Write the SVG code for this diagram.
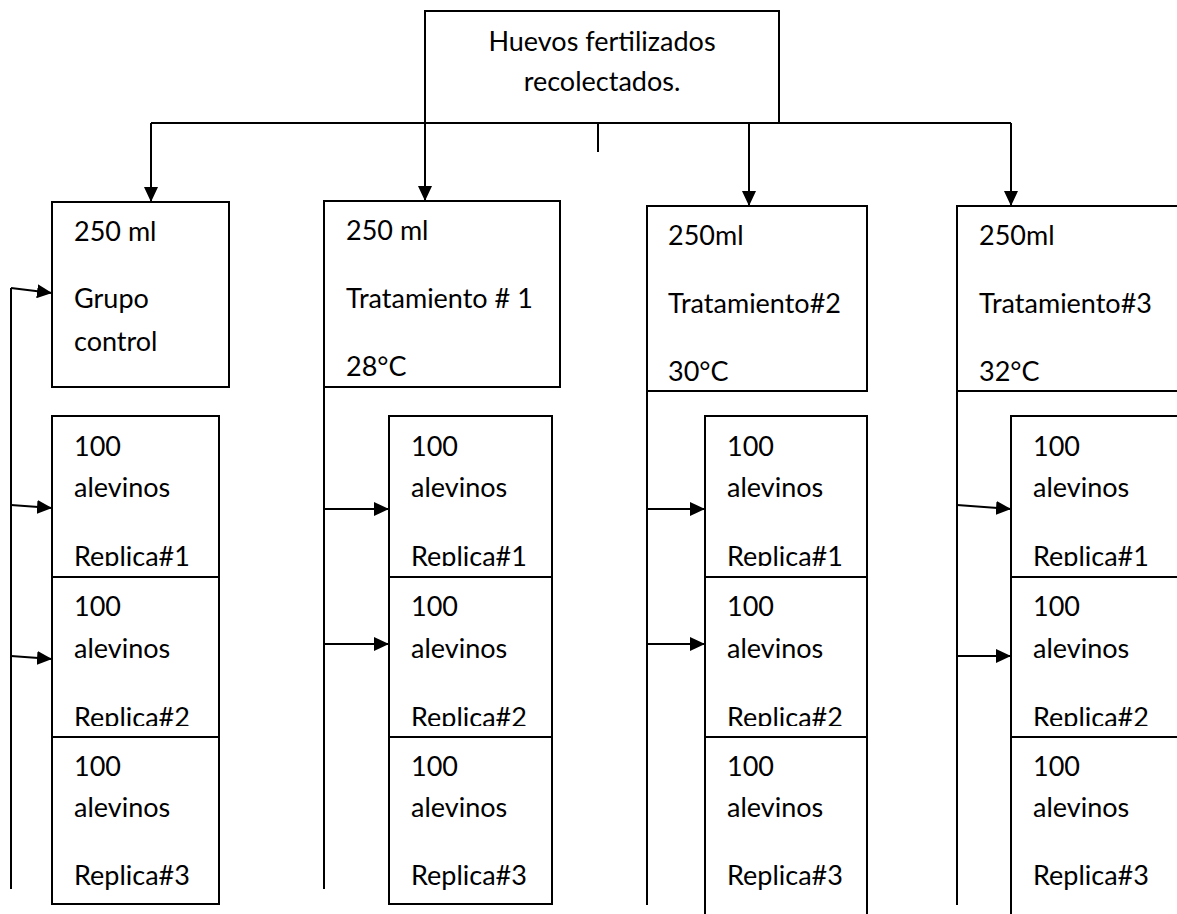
<svg xmlns="http://www.w3.org/2000/svg" width="1177" height="914" viewBox="0 0 1177 914">
<style>
.box{fill:#fff;stroke:#000;stroke-width:2}
.ln{fill:none;stroke:#000;stroke-width:2}
.ar{fill:none;stroke:#000;stroke-width:2;marker-end:url(#ah)}
text{font-family:Lato,"Open Sans","Liberation Sans",sans-serif;font-size:27px;fill:#000}
.c{text-anchor:middle}
</style>
<defs>
<marker id="ah" markerUnits="userSpaceOnUse" markerWidth="15" markerHeight="14" refX="15" refY="7" orient="auto">
<path d="M0,0 L15,7 L0,14 z" fill="#000"/>
</marker>
<clipPath id="cp1"><rect x="0" y="0" width="1177" height="566"/></clipPath>
<clipPath id="cp2"><rect x="0" y="0" width="1177" height="726"/></clipPath>
</defs>
<rect width="1177" height="914" fill="#fff"/>

<g id="top">
<rect class="box" x="425" y="11" width="354" height="112"/>
<text class="c" x="602" y="51">Huevos fertilizados</text>
<text class="c" x="602" y="91">recolectados.</text>
</g>

<g id="control">
<rect class="box" x="52" y="202" width="177" height="185"/>
<text x="74" y="241">250 ml</text>
<text x="74" y="308">Grupo</text>
<text x="74" y="351">control</text>
</g>
<g id="t1">
<rect class="box" x="324" y="201" width="236" height="186"/>
<text x="346" y="240">250 ml</text>
<text x="346" y="308">Tratamiento # 1</text>
<text x="346" y="376">28°C</text>
</g>
<g id="t2">
<rect class="box" x="647" y="206" width="220" height="185"/>
<text x="668" y="245">250ml</text>
<text x="668" y="313">Tratamiento#2</text>
<text x="668" y="381">30°C</text>
</g>
<g id="t3">
<rect class="box" x="957" y="206" width="240" height="185"/>
<text x="979" y="245">250ml</text>
<text x="979" y="313">Tratamiento#3</text>
<text x="979" y="381">32°C</text>
</g>

<g id="c1r1"><rect class="box" x="52" y="416" width="167" height="161"/><text x="74" y="456">100</text><text x="74" y="497">alevinos</text><text x="74" y="566" clip-path="url(#cp1)">Replica#1</text></g>
<g id="c1r2"><rect class="box" x="52" y="577" width="167" height="160"/><text x="74" y="616">100</text><text x="74" y="658">alevinos</text><text x="74" y="727" clip-path="url(#cp2)">Replica#2</text></g>
<g id="c1r3"><rect class="box" x="52" y="737" width="167" height="167"/><text x="74" y="776">100</text><text x="74" y="817">alevinos</text><text x="74" y="885">Replica#3</text></g>

<g id="c2r1"><rect class="box" x="389" y="416" width="163" height="161"/><text x="411" y="456">100</text><text x="411" y="497">alevinos</text><text x="411" y="566" clip-path="url(#cp1)">Replica#1</text></g>
<g id="c2r2"><rect class="box" x="389" y="577" width="163" height="160"/><text x="411" y="616">100</text><text x="411" y="658">alevinos</text><text x="411" y="727" clip-path="url(#cp2)">Replica#2</text></g>
<g id="c2r3"><rect class="box" x="389" y="737" width="163" height="167"/><text x="411" y="776">100</text><text x="411" y="817">alevinos</text><text x="411" y="885">Replica#3</text></g>

<g id="c3r1"><rect class="box" x="705" y="416" width="162" height="161"/><text x="727" y="456">100</text><text x="727" y="497">alevinos</text><text x="727" y="566" clip-path="url(#cp1)">Replica#1</text></g>
<g id="c3r2"><rect class="box" x="705" y="577" width="162" height="160"/><text x="727" y="616">100</text><text x="727" y="658">alevinos</text><text x="727" y="727" clip-path="url(#cp2)">Replica#2</text></g>
<g id="c3r3"><rect class="box" x="705" y="737" width="162" height="190"/><text x="727" y="776">100</text><text x="727" y="817">alevinos</text><text x="727" y="885">Replica#3</text></g>

<g id="c4r1"><rect class="box" x="1011" y="416" width="190" height="161"/><text x="1033" y="456">100</text><text x="1033" y="497">alevinos</text><text x="1033" y="566" clip-path="url(#cp1)">Replica#1</text></g>
<g id="c4r2"><rect class="box" x="1011" y="577" width="190" height="160"/><text x="1033" y="616">100</text><text x="1033" y="658">alevinos</text><text x="1033" y="727" clip-path="url(#cp2)">Replica#2</text></g>
<g id="c4r3"><rect class="box" x="1011" y="737" width="190" height="190"/><text x="1033" y="776">100</text><text x="1033" y="817">alevinos</text><text x="1033" y="885">Replica#3</text></g>

<g id="connectors">
<path class="ln" d="M151,123 H1011"/>
<path class="ln" d="M598,123 V152"/>
<path class="ar" d="M151,123 V202"/>
<path class="ar" d="M425,123 V201"/>
<path class="ar" d="M749,123 V206"/>
<path class="ar" d="M1011,123 V206"/>
<path class="ln" d="M11,889 V288"/>
<path class="ln" d="M324,387 V889"/>
<path class="ln" d="M647,391 V905"/>
<path class="ln" d="M957,391 V905"/>
<path class="ar" d="M11,288 L52,293"/>
<path class="ar" d="M11,505 L52,508"/>
<path class="ar" d="M11,656 L52,659"/>
<path class="ar" d="M324,509 H389"/>
<path class="ar" d="M324,644 H389"/>
<path class="ar" d="M647,509 H705"/>
<path class="ar" d="M647,644 H705"/>
<path class="ar" d="M957,505 L1011,509"/>
<path class="ar" d="M957,656 H1011"/>
</g>
</svg>
